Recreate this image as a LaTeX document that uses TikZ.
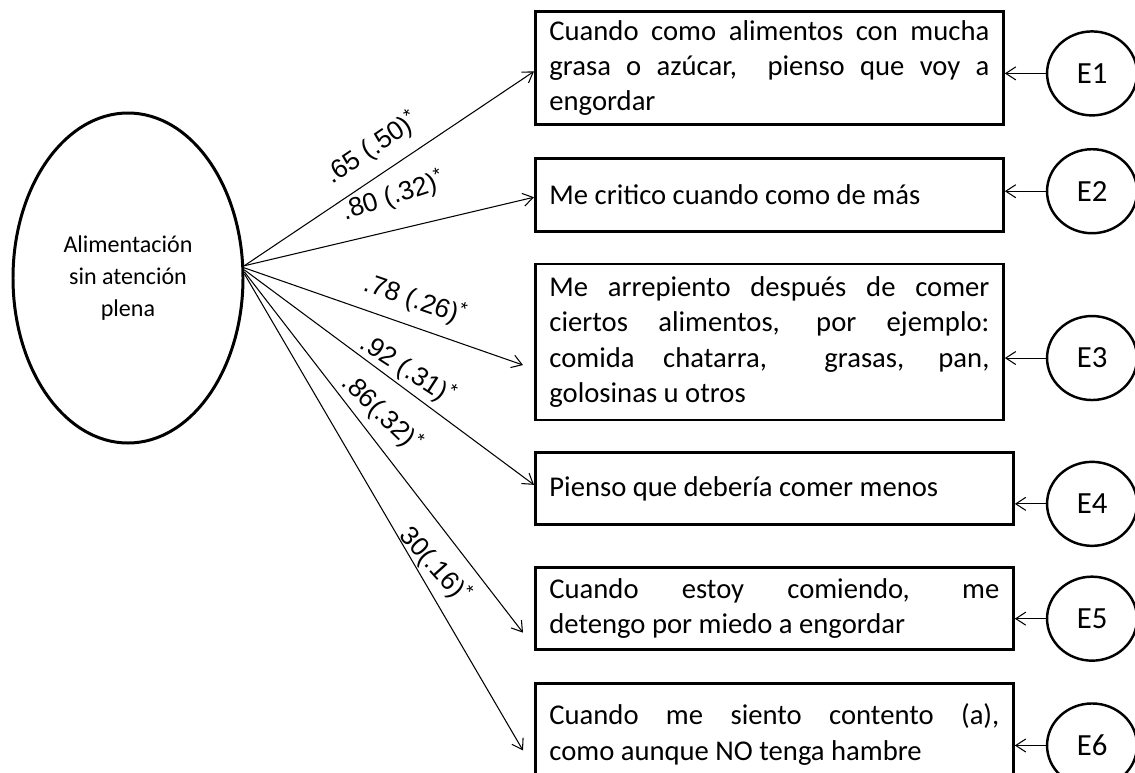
\documentclass[tikz,border=0pt]{standalone}
\usepackage{fontspec}
\setmainfont{Carlito}
\newfontfamily\arialfont{Liberation Sans}
\usepackage{tikz}
\usetikzlibrary{shapes,positioning,arrows.meta}
\hyphenpenalty=10000
\tikzset {
reactivo/.style={shape=rectangle,draw,line width=1.6pt,inner xsep=0.28cm,inner ysep=0cm,text width=8.8cm,align=justify,font=\fontsize{16.3}{20}\selectfont},
factor/.style={shape=ellipse,draw,line width=1.7pt,minimum width=4.6cm,minimum height=6.6cm,inner sep=0pt,align=center,font=\fontsize{13.7}{18}\selectfont},
residuo/.style={shape=ellipse,draw,line width=1.4pt,minimum width=1.8cm,minimum height=1.68cm,inner sep=0pt,font=\fontsize{17.5}{20}\selectfont},
carga/.style={font=\arialfont\fontsize{15}{17}\selectfont,inner sep=0pt}
}

\begin{document}
\begin{tikzpicture}
[>={Straight Barb[length=2mm,width=2.6mm]},node distance=0.6cm]
\useasboundingbox (0,0) rectangle (22.7,-15.44);
\node[factor] (alimentacion) at (2.56,-5.56) {Alimentación\\sin atención\\plena};
\node[reactivo,minimum height=2.26cm,anchor=north west] (grasa) at (10.68,-0.2) {Cuando como alimentos con mucha\linebreak grasa o azúcar,\ \ pienso que voy a\linebreak engordar};
\node[reactivo,minimum height=1.46cm] (critico) [below=0.62cm of grasa.south west,anchor=north west] {Me critico cuando como de más};
\node[reactivo,minimum height=3.12cm] (arrepiento) [below=of critico.south west,anchor=north west] {Me arrepiento después de comer\linebreak ciertos alimentos, por ejemplo:\linebreak comida chatarra,\ \ grasas, pan,\linebreak golosinas u otros};
\node[reactivo,text width=9cm,minimum height=1.44cm] (comer menos) [below=of arrepiento.south west,anchor=north west] {Pienso que debería comer menos};
\node[reactivo,text width=9cm,minimum height=1.64cm] (detengo) [below=0.8cm of comer menos.south west,anchor=north west] {Cuando estoy comiendo, me\linebreak detengo por miedo a engordar};
\node[reactivo,text width=9cm,minimum height=2.04cm] (contento) [below=0.62cm of detengo.south west,anchor=north west] {Cuando me siento contento (a),\linebreak como aunque NO tenga hambre};

\node[residuo] (e1) [right=0.82cm of grasa,yshift=-0.11cm] {E1};
\node[residuo] (e2) [right=0.82cm of critico,yshift=0.07cm] {E2};
\node[residuo] (e3) [right=0.82cm of arrepiento,yshift=-0.32cm] {E3};
\node[residuo] (e4) [right=0.62cm of comer menos,yshift=-0.3cm] {E4};
\node[residuo] (e5) [right=0.62cm of detengo,yshift=-0.2cm] {E5};
\node[residuo] (e6) [right=0.62cm of contento,yshift=-0.22cm] {E6};

% cargas factoriales
\node[carga,rotate=34] (carga grasa) at (7.44,-2.96) {.65 (.50)\textsuperscript{*}};
\node[carga,rotate=18] (carga critico) at (7.86,-3.92) {.80 (.32)\textsuperscript{*}};
\node[carga,rotate=-19] (carga arrepiento) at (8.30,-6.00) {.78 (.26)\textsuperscript{*}};
\node[carga,rotate=-33] (carga comer menos) at (8.16,-7.40) {.92 (.31)\textsuperscript{*}};
\node[carga,rotate=-44] (carga detengo) at (7.64,-8.26) {.86(.32)\textsuperscript{*}};
\node[carga,rotate=-48] (carga contento) at (8.70,-11.30) {30(.16)\textsuperscript{*}};

\draw[->,line width=0.6pt] (alimentacion.6) to ([yshift=-0.07cm]grasa.west);
\draw[->,line width=0.6pt] (alimentacion.6) to ([yshift=-0.05cm]critico.west);
\draw[->,line width=0.6pt] (alimentacion.5) to ([xshift=-0.22cm,yshift=-0.46cm]arrepiento.west);
\draw[->,line width=0.6pt] (alimentacion.4) to ([yshift=0.08cm]comer menos.west);
\draw[->,line width=0.6pt] (alimentacion.3) to ([xshift=-0.22cm,yshift=-0.48cm]detengo.west);
\draw[->,line width=0.6pt] (alimentacion.2) to ([xshift=-0.22cm,yshift=-0.32cm]contento.west);

\draw[->,line width=0.6pt] (e1.west) to (e1.west -| grasa.east);
\draw[->,line width=0.6pt] (e2.west) to (e2.west -| critico.east);
\draw[->,line width=0.6pt] (e3.west) to (e3.west -| arrepiento.east);
\draw[->,line width=0.6pt] (e4.west) to (e4.west -| comer menos.east);
\draw[->,line width=0.6pt] (e5.west) to (e5.west -| detengo.east);
\draw[->,line width=0.6pt] (e6.west) to (e6.west -| contento.east);
\end{tikzpicture}
\end{document}
